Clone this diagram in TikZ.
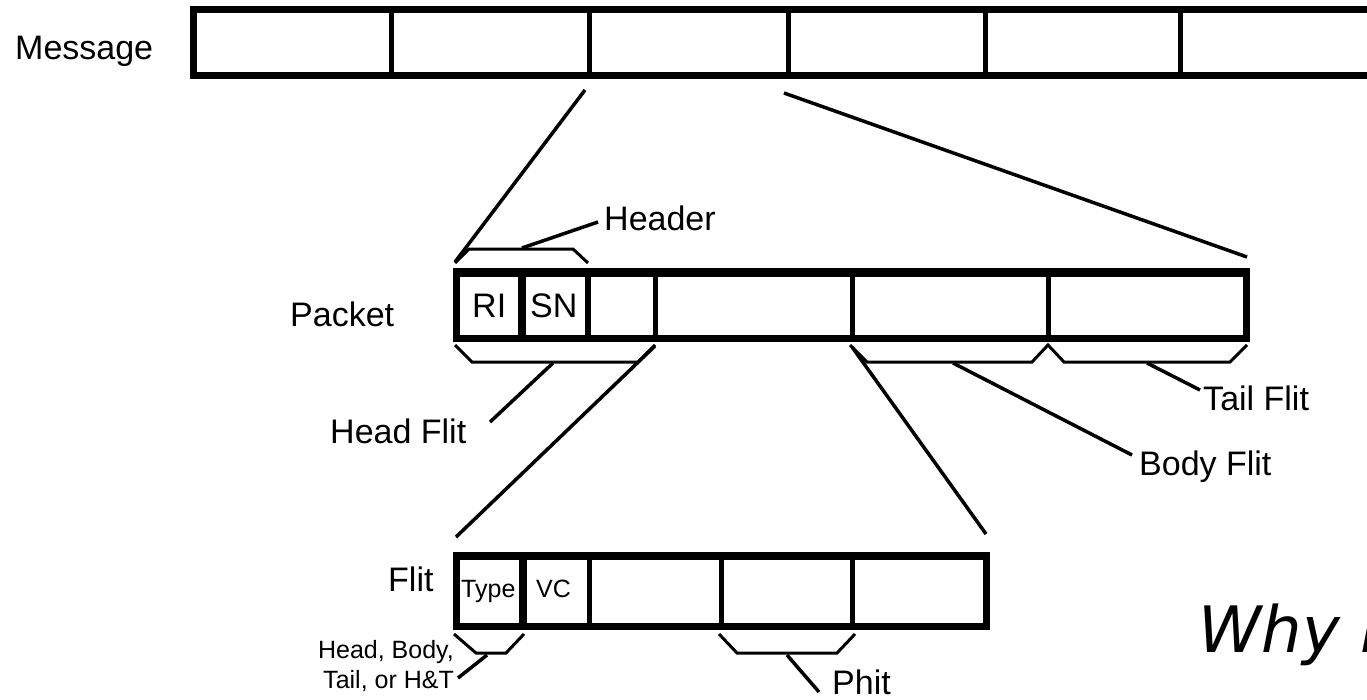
\documentclass[tikz,border=0pt]{standalone}
\usepackage{fontspec}
\setmainfont{Liberation Sans}
\newfontfamily\whyfont{DejaVu Sans}
\begin{document}
\begin{tikzpicture}[x=1pt,y=-1pt,
  lbl/.style={inner sep=0pt, anchor=base west, font=\fontsize{34}{40}\selectfont},
  small/.style={inner sep=0pt, font=\fontsize{25}{30}\selectfont},
  outline/.style={line width=7pt, line join=miter},
  divider/.style={line width=5pt},
  conn/.style={line width=3.5pt},
  brace/.style={line width=3pt, line join=miter}]
\useasboundingbox (0,0) rectangle (1367,699);

% ---------- Message bar ----------
\draw[outline] (1400,9) -- (193,9) -- (193,75) -- (1400,75);
\foreach \x in {391,589,788,985,1180} \draw[divider] (\x,9) -- (\x,75);
\node[lbl] (msg) at (15,59) {Message};

% ---------- Packet bar ----------
\draw[outline] (456,272) rectangle (1246,338);
\draw[line width=9pt] (452.5,272) -- (1249.5,272);
\draw[line width=8pt] (522,272) -- (522,338);
\draw[line width=6pt] (588,272) -- (588,338);
\foreach \x in {655,852,1048} \draw[divider] (\x,272) -- (\x,338);
\node[lbl] (pkt) at (290,326) {Packet};
\node[lbl] (ri) at (472,317) {RI};
\node[lbl] (sn) at (530,317) {SN};

% ---------- Flit bar ----------
\draw[outline] (456,556) rectangle (986,626);
\draw[line width=8.6pt] (452.5,556) -- (989.5,556);
\draw[line width=8pt] (523,556) -- (523,626);
\foreach \x in {589,721,852} \draw[divider] (\x,556) -- (\x,626);
\node[lbl] (flit) at (388,591) {Flit};
\node[small, anchor=base west] (type) at (461,597) {Type};
\node[small, anchor=base west] (vc) at (536,597) {VC};

% ---------- coordinates ----------
\coordinate (m3) at (585,90);
\coordinate (m4) at (784,93);
\coordinate (pTL) at (455,262);
\coordinate (pTR) at (1247,257);
\coordinate (pH) at (655,346);
\coordinate (pB) at (852,347);
\coordinate (fTL) at (456,537);
\coordinate (fTR) at (986,534);

% message -> packet
\draw[conn] (m3) -- (pTL);
\draw[conn] (m4) -- (pTR);
% packet -> flit
\draw[conn] (pH) -- (fTL);
\draw[conn] (pB) -- (fTR);

% ---------- Header brace ----------
\draw[brace] (455,263) -- (469,249) -- (573,249) -- (588,263);
\coordinate (hdrP) at (522,248);
\coordinate (hdrE) at (598,222);
\draw[conn] (hdrP) -- (hdrE);
\node[lbl] (hdr) at (604,230) {Header};

% ---------- Head flit brace ----------
\draw[brace] (455,345) -- (472,362) -- (638,362) -- (655,345);
\coordinate (hfP) at (553,363);
\coordinate (hfE) at (490,422);
\draw[conn] (hfP) -- (hfE);
\node[lbl] (hf) at (330,443) {Head Flit};

% ---------- Body / Tail braces ----------
\draw[brace] (850,345) -- (867,362) -- (1032,362) -- (1048,345) -- (1064,362) -- (1230,362) -- (1247,345);
\coordinate (bfP) at (953,363);
\coordinate (bfE) at (1132,455);
\draw[conn] (bfP) -- (bfE);
\node[lbl] (bf) at (1139,475) {Body Flit};
\coordinate (tfP) at (1147,363);
\coordinate (tfE) at (1200,390);
\draw[conn] (tfP) -- (tfE);
\node[lbl] (tf) at (1203,410) {Tail Flit};

% ---------- Type brace ----------
\draw[brace] (454,634) -- (476,653) -- (506,653) -- (524,634);
\coordinate (tyP) at (487,655);
\coordinate (tyE) at (458,678);
\draw[conn] (tyP) -- (tyE);
\node[small, anchor=base east] (hb1) at (454,658) {Head, Body,};
\node[small, anchor=base east] (hb2) at (454,688) {Tail, or H\&T};

% ---------- Phit brace ----------
\draw[brace] (719,634) -- (737,653) -- (837,653) -- (855,634);
\coordinate (phP) at (787,655);
\coordinate (phE) at (819,692);
\draw[conn] (phP) -- (phE);
\node[lbl] (ph) at (832,694) {Phit};

% ---------- Why ----------
\node[inner sep=0pt, anchor=base west, font=\whyfont\itshape\fontsize{64}{70}\selectfont] (why) at (1198,652) {Why i};
\end{tikzpicture}
\end{document}
